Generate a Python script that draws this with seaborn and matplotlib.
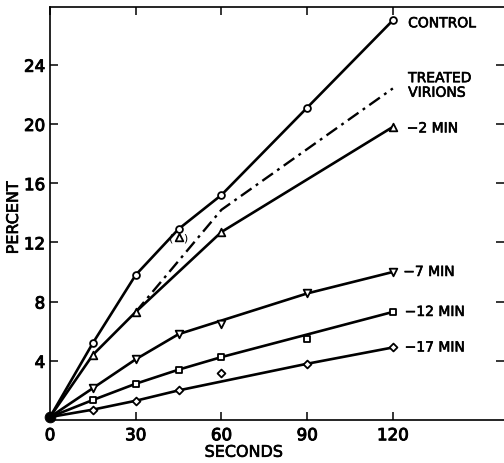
import matplotlib
matplotlib.use("Agg")
import matplotlib.pyplot as plt
import matplotlib.patheffects as pe
import seaborn as sns
import pandas as pd

# Sampling times (seconds)
times = [0, 15, 30, 45, 60, 90, 120]

# Measured points (percent)
control_pts = [0.2, 5.2, 9.8, 12.9, 15.2, 21.1, 27.0]
min2_t = [0, 15, 30, 60, 120]
min2_pts = [0.2, 4.4, 7.3, 12.7, 19.8]
min7_pts = [0.2, 2.15, 4.1, 5.8, 6.5, 8.55, 10.0]
min12_pts = [0.2, 1.35, 2.45, 3.4, 4.25, 5.5, 7.3]
min17_pts = [0.2, 0.7, 1.3, 2.0, 3.2, 3.8, 4.9]

# Bracketed -2 min point at 45 s
min2_extra_t = [45]
min2_extra = [12.35]

# Drawn curves (fitted lines)
control_line_t = [0, 15, 30, 45, 60, 90, 120]
control_line = [0.2, 5.2, 9.8, 12.9, 15.2, 21.1, 27.0]
min2_line_t = [0, 15, 30, 60, 120]
min2_line = [0.2, 4.4, 7.3, 12.7, 19.8]
treated_line_t = [30, 60, 120]
treated_line = [7.3, 14.2, 22.4]
min7_line_t = [0, 15, 30, 45, 90, 120]
min7_line = [0.2, 2.15, 4.1, 5.8, 8.55, 10.0]
min12_line_t = [0, 15, 30, 45, 60, 120]
min12_line = [0.2, 1.35, 2.45, 3.4, 4.25, 7.3]
min17_line_t = [0, 15, 30, 45, 90, 120]
min17_line = [0.2, 0.7, 1.3, 2.0, 3.8, 4.9]

x_ticks = [0, 30, 60, 90, 120]
y_ticks = [4, 8, 12, 16, 20, 24]

sns.set_style("ticks")
plt.rcParams["font.family"] = ["DejaVu Sans"]

ink = "black"
heavy = [pe.withStroke(linewidth=0.45, foreground=ink)]
heavy_ticks = [pe.withStroke(linewidth=0.7, foreground=ink)]

fig = plt.figure(figsize=(5.04, 4.64), dpi=100)
ax = fig.add_axes([50 / 504, 1 - 421 / 464, 454 / 504, 413 / 464])

# Curves
curves = [
    (control_line_t, control_line),
    (min2_line_t, min2_line),
    (min7_line_t, min7_line),
    (min12_line_t, min12_line),
    (min17_line_t, min17_line),
]
for t, v in curves:
    sns.lineplot(x=t, y=v, ax=ax, color=ink, lw=1.9, sort=False,
                 estimator=None)
sns.lineplot(x=treated_line_t, y=treated_line, ax=ax, color=ink, lw=1.7,
             linestyle=(0, (5.5, 2.2, 1.2, 2.2)), sort=False, estimator=None)

# Open markers
pts = pd.concat([
    pd.DataFrame({"t": times[1:], "v": control_pts[1:], "g": "control"}),
    pd.DataFrame({"t": min2_t[1:], "v": min2_pts[1:], "g": "m2"}),
    pd.DataFrame({"t": min2_extra_t, "v": min2_extra, "g": "m2"}),
    pd.DataFrame({"t": times[1:], "v": min7_pts[1:], "g": "m7"}),
    pd.DataFrame({"t": times[1:], "v": min12_pts[1:], "g": "m12"}),
    pd.DataFrame({"t": times[1:], "v": min17_pts[1:], "g": "m17"}),
])
marker_map = {"control": "o", "m2": "^", "m7": "v", "m12": "s", "m17": "D"}
size_map = {"control": 24, "m2": 30, "m7": 30, "m12": 22, "m17": 16}
for g, sub in pts.groupby("g"):
    sns.scatterplot(data=sub, x="t", y="v", ax=ax, marker=marker_map[g],
                    s=size_map[g], facecolor="white", edgecolor=ink,
                    linewidth=1.3, zorder=5, legend=False)

# Parentheses around the bracketed point
ax.text(min2_extra_t[0], min2_extra[0], "(   )", ha="center", va="center",
        fontsize=8, color=ink, zorder=6)

# Common origin
sns.scatterplot(x=[0], y=[0.2], ax=ax, color=ink, s=60, marker="o",
                edgecolor=ink, zorder=6, legend=False, clip_on=False)

# End labels
labels = [
    ("CONTROL", control_line[-1] - 0.2, 11),
    ("TREATED\nVIRIONS", treated_line[-1] + 0.2, 11),
    ("\u22122 MIN", min2_line[-1] - 0.1, 10),
    ("\u22127 MIN", min7_line[-1], 7.5),
    ("\u221212 MIN", min12_line[-1], 8.5),
    ("\u221217 MIN", min17_line[-1], 8.5),
]
for text, yv, off in labels:
    ax.annotate(text, xy=(120, yv), xytext=(off, 0), textcoords="offset points",
                ha="left", va="center", fontsize=10, color=ink,
                linespacing=1.05, path_effects=heavy)

ax.set_xlim(0, 158.9)
ax.set_ylim(0, 27.9)
ax.set_xticks(x_ticks)
ax.set_yticks(y_ticks)
ax.tick_params(axis="both", direction="in", length=6, width=1.1,
               labelsize=12, color=ink, labelcolor=ink)
ax.tick_params(axis="x", pad=4.5, top=True)
ax.tick_params(axis="y", pad=3.5, right=True)
for side in ["left", "bottom", "top"]:
    ax.spines[side].set_linewidth(1.2)
    ax.spines[side].set_color(ink)
ax.spines["right"].set_visible(False)

ax.set_xlabel("SECONDS", fontsize=11.5, color=ink, path_effects=heavy)
ax.set_ylabel("PERCENT", fontsize=11.5, color=ink, path_effects=heavy)
ax.xaxis.set_label_coords(0.427, -0.06)
ax.yaxis.set_label_coords(-0.064, 0.49)

fig.canvas.draw()
for lab in ax.get_xticklabels() + ax.get_yticklabels():
    lab.set_path_effects(heavy_ticks)

fig.savefig("out.png", dpi=100)
